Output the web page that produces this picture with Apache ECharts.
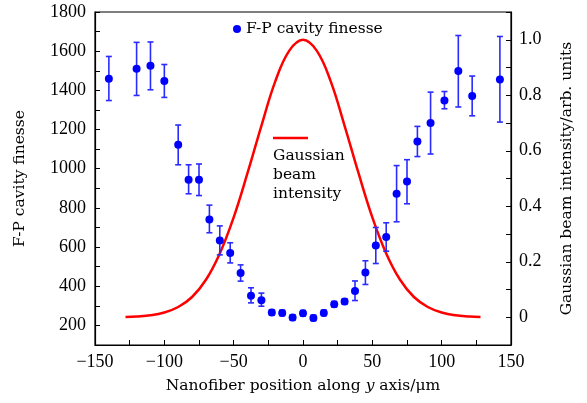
<!DOCTYPE html>
<html>
<head>
<meta charset="utf-8">
<script src="https://cdn.jsdelivr.net/npm/echarts@6/dist/echarts.min.js"></script>
<style>
  html, body { margin: 0; padding: 0; background: #fff; }
  #main { width: 587px; height: 403px; }
</style>
</head>
<body>
<div id="main"></div>
<script>
// nanofiber positions (um) and measured finesse with error bar limits
var xPos = [-140, -120, -110, -100, -90, -82.5, -75, -67.5, -60, -52.5, -45, -37.5, -30, -22.5, -15, -7.5, 0,
            7.5, 15, 22.5, 30, 37.5, 45, 52.5, 60, 67.5, 75, 82.5, 92, 102, 112, 122, 142];
var finesse = [1459, 1510, 1526, 1448, 1122, 943, 943, 741, 633, 570, 467, 352, 329, 266, 264, 240, 262,
               238, 264, 308, 322, 376, 470, 608, 651, 872, 935, 1139, 1233, 1348, 1499, 1371, 1456];
var errLow = [1348, 1374, 1403, 1364, 1020, 872, 863, 673, 560, 519, 426, 315, 298, 252, 250, 226, 248,
              224, 250, 294, 308, 327, 409, 516, 579, 729, 821, 1062, 1075, 1306, 1315, 1270, 1238];
var errHigh = [1573, 1645, 1647, 1532, 1223, 1020, 1024, 814, 708, 622, 509, 392, 365, 280, 278, 254, 276,
               252, 278, 322, 336, 427, 530, 700, 724, 1016, 1046, 1216, 1391, 1394, 1680, 1473, 1675];

// gaussian beam intensity curve (arb. units)
var gaussX = [-128, -120, -110, -100, -90, -80, -70, -60, -50, -40, -30, -20, -10, 0,
              10, 20, 30, 40, 50, 60, 70, 80, 90, 100, 110, 120, 128];
var gaussY = [0.001, 0.003, 0.007, 0.017, 0.037, 0.073, 0.135, 0.23, 0.36, 0.52, 0.69, 0.85, 0.96, 1,
              0.96, 0.85, 0.69, 0.52, 0.36, 0.23, 0.135, 0.073, 0.037, 0.017, 0.007, 0.003, 0.001];

var NUMFONT = 'Liberation Serif';
var TXTFONT = 'DejaVu Serif';

var myChart = echarts.init(document.getElementById('main'), null, { renderer: 'canvas' });

var tick = { inside: true, length: 5, lineStyle: { color: '#000' } };
var line = { show: true, onZero: false, lineStyle: { color: '#000', width: 1.2 } };

var option = {
    animation: false,
    textStyle: { fontFamily: NUMFONT, color: '#000' },
    grid: {
        left: 95, right: 76, top: 12, bottom: 58,
        show: true, borderColor: '#000', borderWidth: 1.2
    },
    legend: {
        data: [{ name: 'F-P cavity finesse', icon: 'circle' }],
        left: 228, top: 16,
        itemWidth: 8, itemHeight: 8,
        textStyle: { fontFamily: TXTFONT, fontSize: 15.5, color: '#000' }
    },
    xAxis: {
        type: 'value',
        min: -150, max: 150, interval: 25,
        name: '{n|Nanofiber position along }{i|y}{n| axis/μm}',
        nameLocation: 'middle', nameGap: 33,
        nameTextStyle: {
            rich: {
                n: { fontFamily: TXTFONT, fontSize: 15.5, color: '#000' },
                i: { fontFamily: TXTFONT, fontSize: 15.5, fontStyle: 'italic', color: '#000' }
            }
        },
        axisLine: line,
        axisTick: tick,
        splitLine: { show: false },
        axisLabel: {
            fontSize: 18, color: '#000', margin: 8,
            formatter: function (v) {
                if (v % 50 !== 0) return '';
                return v < 0 ? '\u2212' + Math.abs(v) : String(v);
            }
        }
    },
    yAxis: [
        {
            type: 'value',
            min: 100, max: 1800, interval: 100,
            name: 'F-P cavity finesse',
            nameLocation: 'middle', nameGap: 67, nameRotate: 90,
            nameTextStyle: { fontFamily: TXTFONT, fontSize: 15.5, color: '#000' },
            axisLine: line,
            axisTick: tick,
            splitLine: { show: false },
            axisLabel: {
                fontSize: 18, color: '#000', margin: 9,
                formatter: function (v) { return v % 200 === 0 ? String(v) : ''; }
            }
        },
        {
            type: 'value',
            min: -0.1, max: 1.1, interval: 0.1,
            name: 'Gaussian beam intensity/arb. units',
            nameLocation: 'middle', nameGap: 48, nameRotate: 90,
            nameTextStyle: { fontFamily: TXTFONT, fontSize: 15.5, color: '#000' },
            axisLine: line,
            axisTick: tick,
            splitLine: { show: false },
            axisLabel: {
                fontSize: 18, color: '#000', margin: 8,
                formatter: function (v) {
                    var k = Math.round(v * 10);
                    if (k < 0 || k > 10 || k % 2 !== 0) return '';
                    return k === 0 ? '0' : (k / 10).toFixed(1);
                }
            }
        }
    ],
    graphic: [
        {
            type: 'line',
            shape: { x1: 273, y1: 138, x2: 308, y2: 138 },
            style: { stroke: '#ff0000', lineWidth: 2.5 }
        },
        {
            type: 'text',
            left: 273, top: 146,
            style: {
                text: 'Gaussian\nbeam\nintensity',
                font: '15.5px "DejaVu Serif"',
                fill: '#000',
                lineHeight: 19
            }
        }
    ],
    series: [
        {
            name: 'Gaussian beam intensity',
            type: 'line',
            yAxisIndex: 1,
            smooth: 0.4,
            showSymbol: false,
            lineStyle: { color: '#ff0000', width: 2.5 },
            data: gaussX.map(function (x, i) { return [x, gaussY[i]]; }),
            z: 1
        },
        {
            name: 'error',
            type: 'custom',
            yAxisIndex: 0,
            renderItem: function (params, api) {
                var x = api.value(0);
                var lo = api.coord([x, api.value(1)]);
                var hi = api.coord([x, api.value(2)]);
                var c = 3;
                var st = { stroke: '#2b2bff', lineWidth: 1.6 };
                return {
                    type: 'group',
                    children: [
                        { type: 'line', shape: { x1: lo[0], y1: lo[1], x2: hi[0], y2: hi[1] }, style: st },
                        { type: 'line', shape: { x1: lo[0] - c, y1: lo[1], x2: lo[0] + c, y2: lo[1] }, style: st },
                        { type: 'line', shape: { x1: hi[0] - c, y1: hi[1], x2: hi[0] + c, y2: hi[1] }, style: st }
                    ]
                };
            },
            encode: { x: 0, y: [1, 2] },
            data: xPos.map(function (x, i) { return [x, errLow[i], errHigh[i]]; }),
            z: 2
        },
        {
            name: 'F-P cavity finesse',
            type: 'scatter',
            yAxisIndex: 0,
            symbol: 'circle',
            symbolSize: 8,
            itemStyle: { color: '#0000ff', opacity: 1 },
            data: xPos.map(function (x, i) { return [x, finesse[i]]; }),
            z: 3
        }
    ]
};

if (option && typeof option === 'object') {
    myChart.setOption(option);
}

window.addEventListener('resize', myChart.resize);
</script>
</body>
</html>
